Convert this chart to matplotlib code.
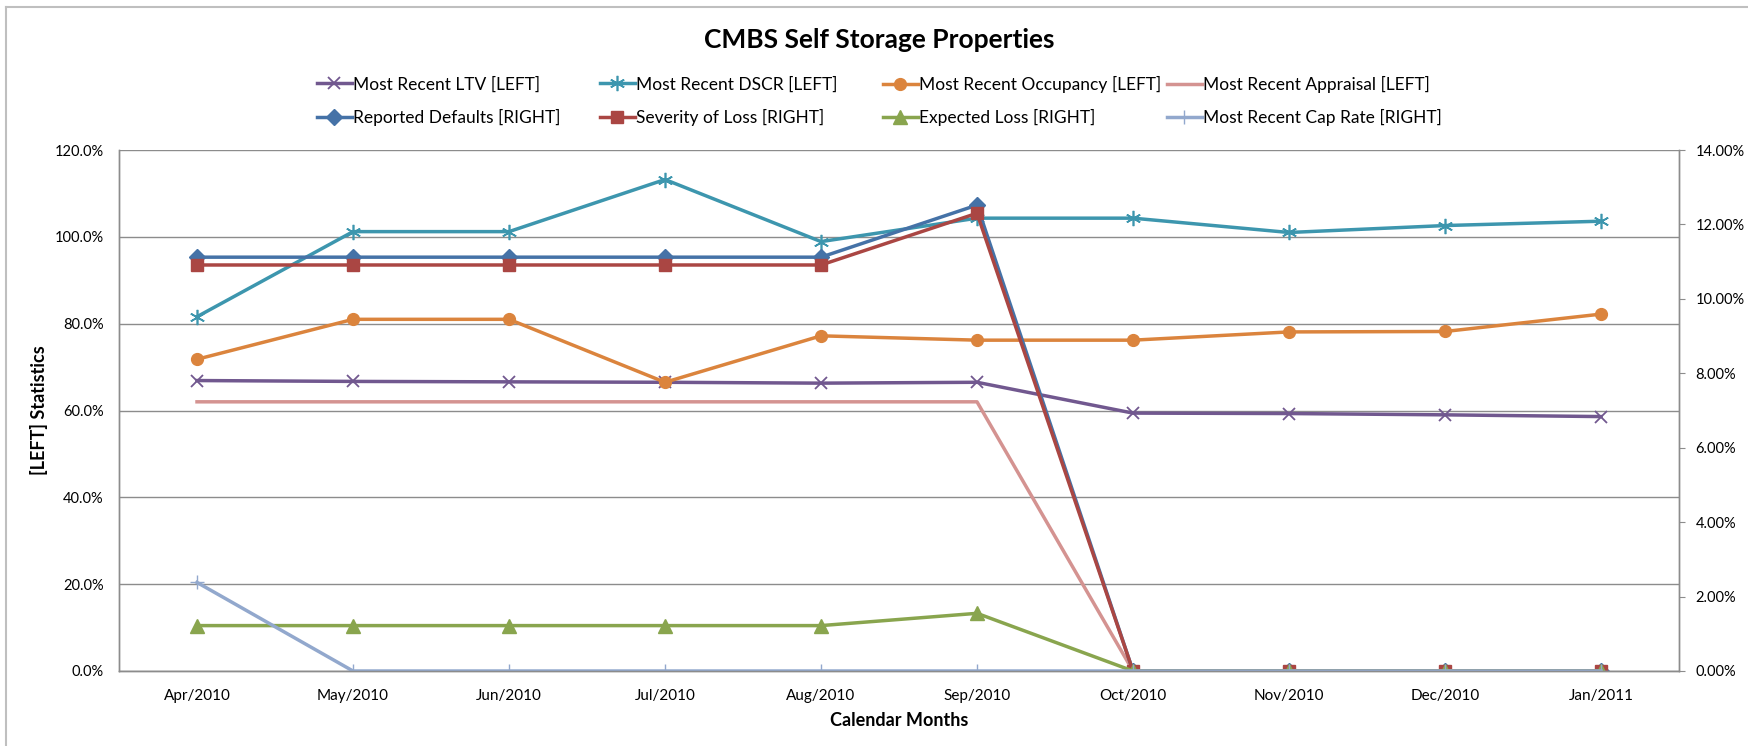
import matplotlib
matplotlib.use("Agg")
import matplotlib.pyplot as plt
from matplotlib.lines import Line2D
from matplotlib.ticker import FuncFormatter

plt.rcParams['font.family'] = ['Lato', 'DejaVu Sans']

# --[data]---------------------------------------------------------------------
months = ['Apr/2010', 'May/2010', 'Jun/2010', 'Jul/2010', 'Aug/2010',
          'Sep/2010', 'Oct/2010', 'Nov/2010', 'Dec/2010', 'Jan/2011']

# left axis (%)
ltv = [66.9, 66.7, 66.6, 66.5, 66.3, 66.5, 59.4, 59.3, 59.0, 58.6]
dscr = [81.6, 101.2, 101.2, 113.2, 98.9, 104.3, 104.3, 101.0, 102.6, 103.6]
occupancy = [71.8, 81.0, 81.0, 66.5, 77.2, 76.2, 76.2, 78.1, 78.2, 82.2]
appraisal = [62.0, 62.0, 62.0, 62.0, 62.0, 62.0, 0, 0, 0, 0]

# right axis (%)
defaults = [11.12, 11.12, 11.12, 11.12, 11.12, 12.52, 0, 0, 0, 0]
severity = [10.91, 10.91, 10.91, 10.91, 10.91, 12.30, 0, 0, 0, 0]
expected_loss = [1.22, 1.22, 1.22, 1.22, 1.22, 1.55, 0, 0, 0, 0]
cap_rate = [2.38, 0, 0, 0, 0, 0, 0, 0, 0, 0]

# --[figure]-------------------------------------------------------------------
W, H = 1749, 746
fig = plt.figure(figsize=(W / 100, H / 100), dpi=100)
ax = fig.add_axes([119 / W, 1 - 671 / H, (1679 - 119) / W, (671 - 150) / H])
ax2 = ax.twinx()

x = [i + 0.5 for i in range(len(months))]
lw = 2.5
grid_c = '#8C8C8C'

ax.plot(x, ltv, color='#71588F', lw=lw, marker='x', ms=9, mew=1.3, label='Most Recent LTV [LEFT]')
ax.plot(x, dscr, color='#3D96AE', lw=lw, marker=(6, 2, 0), ms=11, mew=1.2, label='Most Recent DSCR [LEFT]')
ax.plot(x, occupancy, color='#DB843D', lw=lw, marker='o', ms=8.5, label='Most Recent Occupancy [LEFT]')
ax.plot(x, appraisal, color='#D49391', lw=lw, label='Most Recent Appraisal [LEFT]')

ax2.plot(x, defaults, color='#4572A7', lw=lw, marker='D', ms=8, label='Reported Defaults [RIGHT]')
ax2.plot(x, severity, color='#AA4643', lw=lw, marker='s', ms=9, label='Severity of Loss [RIGHT]')
ax2.plot(x, expected_loss, color='#89A54E', lw=lw, marker='^', ms=9.5, label='Expected Loss [RIGHT]')
ax2.plot(x, cap_rate, color='#92A8CD', lw=lw, marker='+', ms=10, mew=1.0, label='Most Recent Cap Rate [RIGHT]')

# --[axes styling]-------------------------------------------------------------
ax.set_xlim(0, len(months))
ax.set_ylim(0, 120)
ax2.set_ylim(0, 14)
ax.set_xticks(x)
ax.set_xticklabels(months)
ax.set_yticks(range(0, 121, 20))
ax2.set_yticks(range(0, 15, 2))
ax.yaxis.set_major_formatter(FuncFormatter(lambda v, p: '{:.1f}%'.format(v)))
ax2.yaxis.set_major_formatter(FuncFormatter(lambda v, p: '{:.2f}%'.format(v)))
ax.grid(axis='y', color=grid_c, lw=1.0)
ax.set_axisbelow(True)

for a in (ax, ax2):
    for s in a.spines.values():
        s.set_color(grid_c)
        s.set_linewidth(1.0)
    a.spines['top'].set_visible(False)

ax.tick_params(axis='x', length=0, pad=13, labelsize=11)
ax.tick_params(axis='y', length=0, pad=11, labelsize=10.5)
ax2.tick_params(axis='y', length=4, color=grid_c, pad=8, labelsize=10.5)

fig.text(879 / W, 1 - 40 / H, 'CMBS Self Storage Properties', ha='center', va='center',
         fontsize=19, fontweight='bold')
fig.text(899 / W, 1 - 721 / H, 'Calendar Months', ha='center', va='center',
         fontsize=13, fontweight='bold')
fig.text(39 / W, 1 - 410 / H, '[LEFT] Statistics', ha='center', va='center',
         rotation=90, fontsize=13, fontweight='bold')

# --[legend: four columns, two rows]-------------------------------------------
h1, l1 = ax.get_legend_handles_labels()
h2, l2 = ax2.get_legend_handles_labels()
col_x = [317, 600, 883, 1167]
for i in range(4):
    fig.legend([h1[i], h2[i]], [l1[i], l2[i]], loc='center left',
               bbox_to_anchor=(col_x[i] / W, 1 - 101 / H), frameon=False,
               borderpad=0, borderaxespad=0, handlelength=2.0, handletextpad=0.1,
               labelspacing=0.95, fontsize=12.5)

# chart area border (left and top only)
fig.add_artist(Line2D([6 / W, 6 / W], [0, 1 - 7 / H], transform=fig.transFigure, color='#BFBFBF', lw=1.5))
fig.add_artist(Line2D([6 / W, 1], [1 - 7 / H, 1 - 7 / H], transform=fig.transFigure, color='#BFBFBF', lw=1.5))

fig.savefig('out.png', dpi=100, facecolor='white')
